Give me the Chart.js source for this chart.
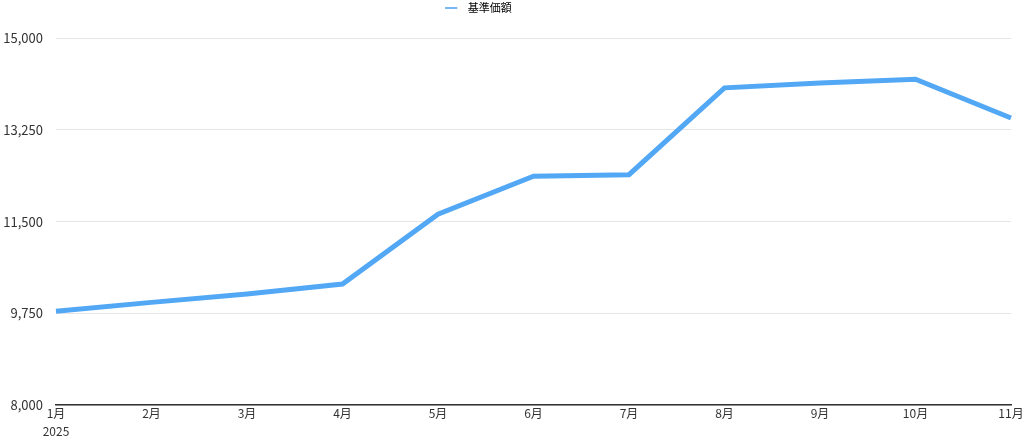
<!DOCTYPE html>
<html>
<head>
<meta charset="utf-8">
<script src="https://cdn.jsdelivr.net/npm/chart.js@4"></script>
<style>
  html, body { margin: 0; padding: 0; background: #fff; }
  #wrap { width: 1024px; height: 440px; position: relative; }
</style>
</head>
<body>
<div id="wrap"><canvas id="navChart"></canvas></div>
<script>
const months = ['1月', '2月', '3月', '4月', '5月', '6月', '7月', '8月', '9月', '10月', '11月'];
const yearLabel = '2025';
const navValues = [9790, 9960, 10120, 10310, 11640, 12365, 12395, 14050, 14140, 14215, 13475];
const yTicks = [8000, 9750, 11500, 13250, 15000];

const lineColor = '#52a8f5';
const fontFamily = '"Noto Sans CJK JP", "Noto Sans", sans-serif';

// short line used as the legend marker, with empty space after it
const legendMark = document.createElement('canvas');
legendMark.width = 17;
legendMark.height = 2;
const markCtx = legendMark.getContext('2d');
markCtx.fillStyle = '#7ab8f3';
markCtx.fillRect(0, 0, 12, 2);

// push the plot area down below the legend and nudge the legend left
const legendGap = {
    id: 'legendGap',
    beforeLayout(chart) {
        const lg = chart.legend;
        if (lg && !lg._gapPatched) {
            const fit = lg.fit;
            lg.fit = function () {
                fit.call(this);
                this.height += 15;
            };
            lg._gapPatched = true;
        }
    },
    afterLayout(chart) {
        const lg = chart.legend;
        if (lg) {
            lg.left -= 27;
            lg.right -= 27;
        }
    }
};

const ctx = document.getElementById('navChart').getContext('2d');

new Chart(ctx, {
    type: 'line',
    data: {
        labels: months.map((m, i) => (i === 0 ? [m, yearLabel] : m)),
        datasets: [{
            label: '基準価額',
            data: navValues,
            borderColor: lineColor,
            backgroundColor: lineColor,
            borderWidth: 5,
            pointRadius: 0,
            pointHoverRadius: 0,
            tension: 0
        }]
    },
    options: {
        responsive: true,
        maintainAspectRatio: false,
        animation: false,
        layout: { padding: { left: 0, right: 13, top: 0, bottom: 0 } },
        plugins: {
            legend: {
                display: true,
                position: 'top',
                labels: {
                    usePointStyle: true,
                    pointStyleWidth: 17,
                    boxHeight: 11,
                    padding: 2,
                    color: '#444',
                    font: { family: fontFamily, size: 11 },
                    generateLabels: (chart) => chart.data.datasets.map((ds, i) => ({
                        text: ds.label,
                        fillStyle: '#7ab8f3',
                        strokeStyle: '#7ab8f3',
                        lineWidth: 0,
                        pointStyle: legendMark,
                        hidden: false,
                        datasetIndex: i
                    }))
                }
            },
            tooltip: { enabled: false }
        },
        scales: {
            x: {
                offset: false,
                grid: { display: false, drawTicks: false },
                border: { display: true, color: '#333', width: 1.5 },
                ticks: {
                    color: '#333',
                    padding: 0,
                    maxRotation: 0,
                    autoSkip: false,
                    font: { family: fontFamily, size: 12, lineHeight: 1.45 }
                }
            },
            y: {
                min: yTicks[0],
                max: yTicks[yTicks.length - 1],
                afterBuildTicks: (axis) => {
                    axis.ticks = yTicks.map((v) => ({ value: v }));
                },
                afterFit: (axis) => { axis.width = 56; },
                grid: { color: '#e6e6e6', drawTicks: false, lineWidth: 1 },
                border: { display: false },
                ticks: {
                    color: '#333',
                    padding: 13,
                    font: { family: fontFamily, size: 13 },
                    callback: (v) => Number(v).toLocaleString('en-US')
                }
            }
        }
    },
    plugins: [legendGap]
});
</script>
</body>
</html>
